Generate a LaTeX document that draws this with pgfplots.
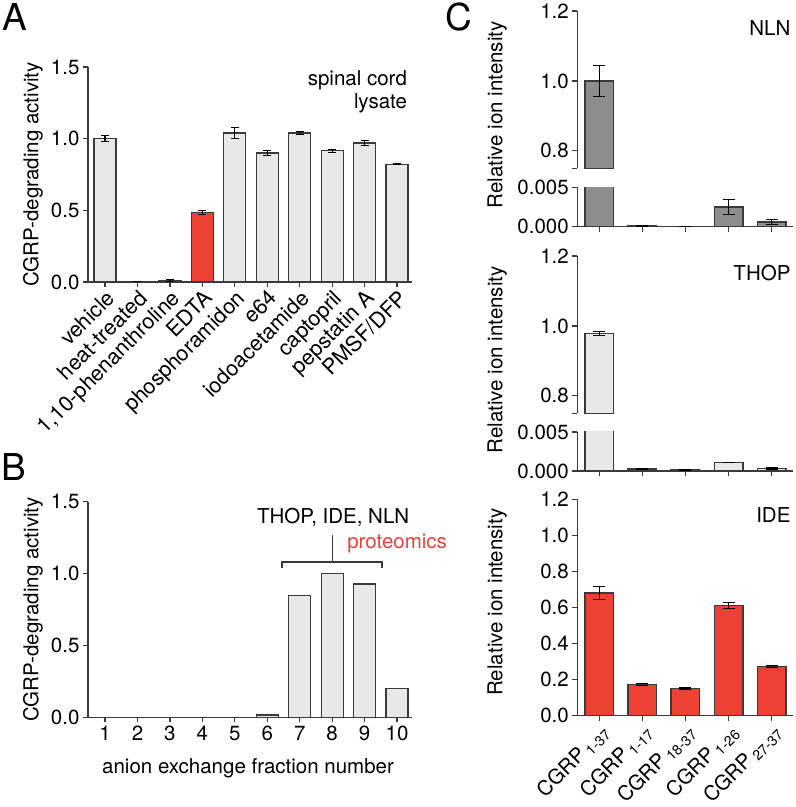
\documentclass[border=0pt]{standalone}
\usepackage{fontspec}
\setmainfont{TeX Gyre Heros}
\usepackage{pgfplots}
\pgfplotsset{compat=1.18}

\definecolor{barred}{HTML}{EC4134}
\definecolor{barlight}{HTML}{E8E8E8}
\definecolor{bardark}{HTML}{8D8D8D}
\definecolor{axisgray}{HTML}{3A3A3A}
\definecolor{txtred}{HTML}{E5433A}
\newcommand\fs{\fontsize{20.5}{23}\selectfont}

\pgfplotsset{
  panel/.style={
    scale only axis, anchor=south west,
    axis x line*=bottom, axis y line*=left,
    axis line style={axisgray, line width=1.5pt, -},
    tick style={axisgray, line width=1.3pt},
    tick align=outside, major tick length=5pt,
    ticklabel style={font=\fs},
    label style={font=\fs},
    /pgf/number format/assume math mode=true,
    scaled y ticks=false,
    clip=true,
  },
  onedec/.style={yticklabel style={/pgf/number format/fixed,
    /pgf/number format/fixed zerofill, /pgf/number format/precision=1}},
  threedec/.style={yticklabel style={/pgf/number format/fixed,
    /pgf/number format/fixed zerofill, /pgf/number format/precision=3}},
  bars/.style={ybar, bar shift=0pt, draw=axisgray, line width=1.3pt, mark=none,
    error bars/y dir=both, error bars/y explicit,
    error bars/error bar style={black, line width=1.2pt},
    error bars/error mark options={rotate=90, black, mark size=#1, line width=1.2pt}},
  bars/.default=4pt,
  cpanel/.style={panel, width=215.7pt, xmin=0.49, xmax=5.495, bar width=28.7pt,
    xtick={1,...,5}},
}

\begin{document}
\begin{tikzpicture}
\useasboundingbox (0,0) rectangle (796pt,807pt);

% panel letters
\node[anchor=north west, inner sep=0pt, font=\fontsize{37}{40}\selectfont] at (2pt,804pt) {A};
\node[anchor=north west, inner sep=0pt, font=\fontsize{37}{40}\selectfont] at (1pt,354pt) {B};
\node[anchor=north west, inner sep=0pt, font=\fontsize{37}{40}\selectfont] at (445pt,804pt) {C};

% ---- A
\begin{axis}[panel, onedec, at={(88pt,525pt)}, width=324pt, height=215pt,
  xmin=0.476, xmax=10.46, ymin=0, ymax=1.5, ytick={0,0.5,1,1.5},
  xtick={1,...,10},
  xticklabels={vehicle, heat-treated, {1,10-phenanthroline}, EDTA, phosphoramidon,
    e64, iodoacetamide, captopril, pepstatin A, PMSF/DFP},
  x tick label style={rotate=45, anchor=north east, inner sep=1pt,
    font=\fontsize{21.5}{24}\selectfont},
  ylabel={CGRP-degrading activity},
  ylabel style={at={(axis description cs:-0.17,0.5)}, anchor=center},
  bar width=22pt]
\addplot[bars, fill=barlight] coordinates {
  (1,1.00) +- (0,0.02)
  (2,0.00) +- (0,0.0)
  (3,0.01) +- (0,0.005)
  (5,1.04) +- (0,0.04)
  (6,0.90) +- (0,0.015)
  (7,1.04) +- (0,0.01)
  (8,0.915) +- (0,0.01)
  (9,0.97) +- (0,0.015)
  (10,0.82) +- (0,0.003)
};
\addplot[bars, fill=barred] coordinates {(4,0.485) +- (0,0.015)};
\node[anchor=north east, align=right, font=\fs, inner sep=0pt] at (rel axis cs:0.985,0.986) {spinal cord\\lysate};
\end{axis}

% ---- B
\begin{axis}[panel, onedec, at={(88pt,89.7pt)}, width=324pt, height=215.6pt,
  xmin=0.476, xmax=10.46, ymin=0, ymax=1.5, ytick={0,0.5,1,1.5},
  xtick={1,...,10}, clip=false,
  ylabel={CGRP-degrading activity},
  ylabel style={at={(axis description cs:-0.17,0.5)}, anchor=center},
  xlabel={anion exchange fraction number},
  xlabel style={at={(axis description cs:0.494,-0.235)}, anchor=center},
  bar width=22pt]
\addplot[ybar, bar shift=0pt, draw=axisgray, line width=1.3pt, mark=none, fill=barlight] coordinates {
  (1,0) (2,0) (3,0) (4,0) (5,0)
  (6,0.015) (7,0.847) (8,1.0) (9,0.928) (10,0.20)
};
\draw[axisgray, line width=1.3pt] (axis cs:6.456,1.04) -- (axis cs:6.456,1.08) -- (axis cs:9.54,1.08) -- (axis cs:9.54,1.04);
\draw[axisgray, line width=1.3pt] (axis cs:8,1.08) -- (axis cs:8,1.27);
\node[font=\fs, inner sep=0pt] at (axis cs:8.03,1.39) {THOP, IDE, NLN};
\node[font=\fs, inner sep=0pt, anchor=west, text=txtred] at (axis cs:8.46,1.21) {proteomics};
\end{axis}

% ---- C: NLN
\begin{axis}[cpanel, onedec, at={(577.3pt,638.7pt)}, height=157.3pt,
  ymin=0.75, ymax=1.2, axis x line=none, ytick={0.8,1,1.2},
  extra y ticks={0.75}, extra y tick labels={},
  ylabel={Relative ion intensity},
  ylabel style={at={(axis description cs:-0.372,0.339)}, anchor=center}]
\addplot[bars=6pt, fill=bardark] coordinates {(1,1.0) +- (0,0.045)};
\node[anchor=east, font=\fs, inner sep=0pt] at (axis cs:5.44,1.15) {NLN};
\end{axis}
\begin{axis}[cpanel, threedec, at={(577.3pt,580.3pt)}, height=39.4pt,
  ymin=0, ymax=0.005, ytick={0,0.005}, xticklabels={}]
\addplot[bars=6pt, fill=bardark] coordinates {
  (1,1.0) +- (0,0.045)
  (2,0.0001) +- (0,0.00003)
  (3,0.00005) +- (0,0.00002)
  (4,0.0025) +- (0,0.001)
  (5,0.0006) +- (0,0.0003)
};
\end{axis}

% ---- C: THOP
\begin{axis}[cpanel, onedec, at={(577.3pt,393.7pt)}, height=157.3pt,
  ymin=0.75, ymax=1.2, axis x line=none, ytick={0.8,1,1.2},
  extra y ticks={0.75}, extra y tick labels={},
  ylabel={Relative ion intensity},
  ylabel style={at={(axis description cs:-0.372,0.339)}, anchor=center}]
\addplot[bars=6pt, fill=barlight] coordinates {(1,0.979) +- (0,0.006)};
\node[anchor=east, font=\fs, inner sep=0pt] at (axis cs:5.44,1.15) {THOP};
\end{axis}
\begin{axis}[cpanel, threedec, at={(577.3pt,336pt)}, height=39pt,
  ymin=0, ymax=0.005, ytick={0,0.005}, xticklabels={}]
\addplot[bars=6pt, fill=barlight] coordinates {
  (1,0.979) +- (0,0.006)
  (2,0.00025) +- (0,0.00005)
  (3,0.00012) +- (0,0.00003)
  (4,0.0011) +- (0,0.00003)
  (5,0.00035) +- (0,0.0001)
};
\end{axis}

% ---- C: IDE
\begin{axis}[cpanel, onedec, at={(577.3pt,91.3pt)}, height=216.4pt,
  ymin=0, ymax=1.2, ytick={0,0.2,...,1.2},
  xticklabels={CGRP\,\textsubscript{1-37}, CGRP\,\textsubscript{1-17},
    CGRP\,\textsubscript{18-37}, CGRP\,\textsubscript{1-26}, CGRP\,\textsubscript{27-37}},
  x tick label style={rotate=45, anchor=north east, inner sep=1pt},
  ylabel={Relative ion intensity},
  ylabel style={at={(axis description cs:-0.372,0.525)}, anchor=center}]
\addplot[bars=6pt, fill=barred] coordinates {
  (1,0.68) +- (0,0.037)
  (2,0.174) +- (0,0.006)
  (3,0.152) +- (0,0.004)
  (4,0.61) +- (0,0.016)
  (5,0.272) +- (0,0.006)
};
\node[anchor=east, font=\fs, inner sep=0pt] at (axis cs:5.44,1.115) {IDE};
\end{axis}
\end{tikzpicture}
\end{document}
